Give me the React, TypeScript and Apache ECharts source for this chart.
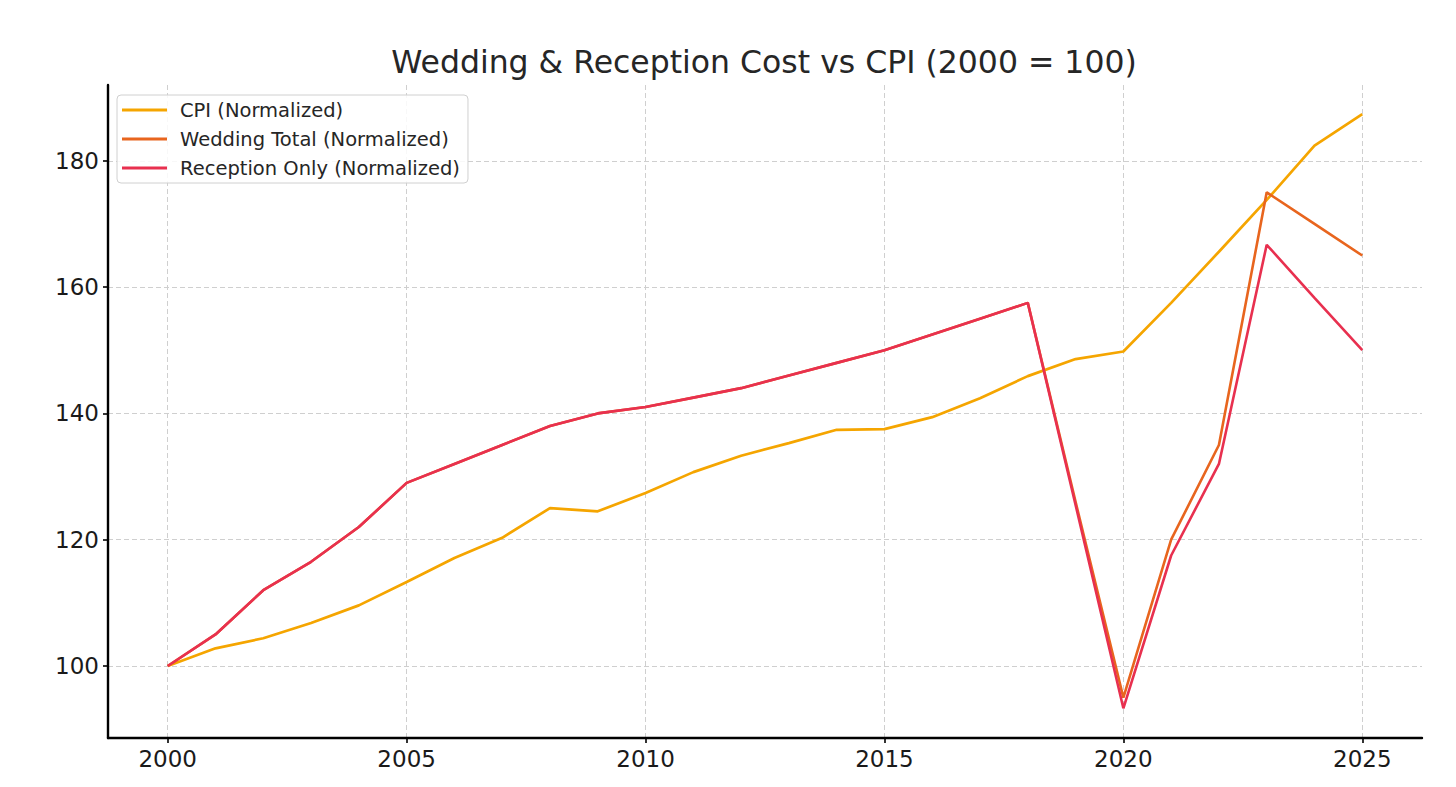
import React, { useEffect, useRef } from "react";
import * as echarts from "echarts";

const years = [2000, 2001, 2002, 2003, 2004, 2005, 2006, 2007, 2008, 2009, 2010, 2011, 2012, 2013, 2014, 2015, 2016, 2017, 2018, 2019, 2020, 2021, 2022, 2023, 2024, 2025];

const cpi = [100, 102.8, 104.4, 106.8, 109.6, 113.3, 117.1, 120.3, 125.0, 124.5, 127.4, 130.7, 133.3, 135.3, 137.4, 137.5, 139.4, 142.4, 145.9, 148.6, 149.8, 157.5, 165.6, 173.8, 182.4, 187.4];

const weddingTotal = [100, 105, 112, 116.5, 122, 129, 132, 135, 138, 140, 141, 142.5, 144, 146, 148, 150, 152.5, 155, 157.5, 126, 95, 120, 135, 175, 170, 165];

const receptionOnly = [100, 105, 112, 116.5, 122, 129, 132, 135, 138, 140, 141, 142.5, 144, 146, 148, 150, 152.5, 155, 157.5, 125.5, 93.3, 117.5, 132, 166.7, 158.3, 150];

const xTicks = [2000, 2005, 2010, 2015, 2020, 2025];
const yTicks = [100, 120, 140, 160, 180];

const seriesNames = ["CPI (Normalized)", "Wedding Total (Normalized)", "Reception Only (Normalized)"];
const colors = ["#F5A500", "#E8651E", "#E8304F"];

const FONT = "'DejaVu Sans', Verdana, sans-serif";

export default function App() {
  const ref = useRef<HTMLDivElement>(null);
  useEffect(() => {
    if (!ref.current) return;
    const chart = echarts.init(ref.current, null, { renderer: "svg" });
    const pair = (arr: number[]) => years.map((y, i) => [y, arr[i]]);
    const gridLine = { show: true, lineStyle: { color: "#cfcfcf", width: 1, type: [5, 3] as any } };
    chart.setOption({
      animation: false,
      backgroundColor: "#ffffff",
      textStyle: { fontFamily: FONT },
      title: {
        text: "Wedding & Reception Cost vs CPI (2000 = 100)",
        left: 759,
        textAlign: "center",
        top: 41,
        textStyle: { fontFamily: FONT, fontSize: 31.5, fontWeight: "normal", color: "#262626" },
      },
      grid: { left: 108, right: 34, top: 85, bottom: 49, containLabel: false },
      legend: {
        orient: "vertical",
        left: 117,
        top: 95,
        padding: [5, 8, 5, 5],
        itemWidth: 45,
        itemHeight: 3,
        itemGap: 9,
        icon: "rect",
        borderColor: "#d0d0d0",
        borderWidth: 1,
        borderRadius: 4,
        backgroundColor: "rgba(255,255,255,0.85)",
        textStyle: { fontFamily: FONT, fontSize: 19.5, color: "#262626", lineHeight: 20, padding: [0, 0, 0, 8] },
        data: seriesNames,
      },
      xAxis: {
        type: "value",
        min: 1998.75,
        max: 2026.25,
        axisLine: { show: true, onZero: false, lineStyle: { color: "#000", width: 2.4 } },
        axisTick: { show: true, inside: false, length: 5, lineStyle: { color: "#000", width: 1.6 }, customValues: xTicks },
        axisLabel: { customValues: xTicks, formatter: (v: number) => String(v), fontFamily: FONT, fontSize: 23, color: "#1a1a1a", margin: 9 },
        splitLine: gridLine,
      },
      yAxis: {
        type: "value",
        min: 88.6,
        max: 192.0,
        axisLine: { show: true, onZero: false, lineStyle: { color: "#000", width: 2.4 } },
        axisTick: { show: true, inside: false, length: 5, lineStyle: { color: "#000", width: 1.6 }, customValues: yTicks },
        axisLabel: { customValues: yTicks, formatter: (v: number) => String(v), fontFamily: FONT, fontSize: 23, color: "#1a1a1a", margin: 9 },
        splitLine: gridLine,
      },
      series: [
        { name: seriesNames[0], type: "line", data: pair(cpi), showSymbol: false, symbol: "none", lineStyle: { width: 2.7, color: colors[0] }, itemStyle: { color: colors[0] }, z: 2 },
        { name: seriesNames[1], type: "line", data: pair(weddingTotal), showSymbol: false, symbol: "none", lineStyle: { width: 2.6, color: colors[1] }, itemStyle: { color: colors[1] }, z: 3 },
        { name: seriesNames[2], type: "line", data: pair(receptionOnly), showSymbol: false, symbol: "none", lineStyle: { width: 2.6, color: colors[2] }, itemStyle: { color: colors[2] }, z: 4 },
      ],
    });
    return () => chart.dispose();
  }, []);
  return <div ref={ref} style={{ position: "fixed", left: 0, top: 0, width: 1456, height: 787 }} />;
}
